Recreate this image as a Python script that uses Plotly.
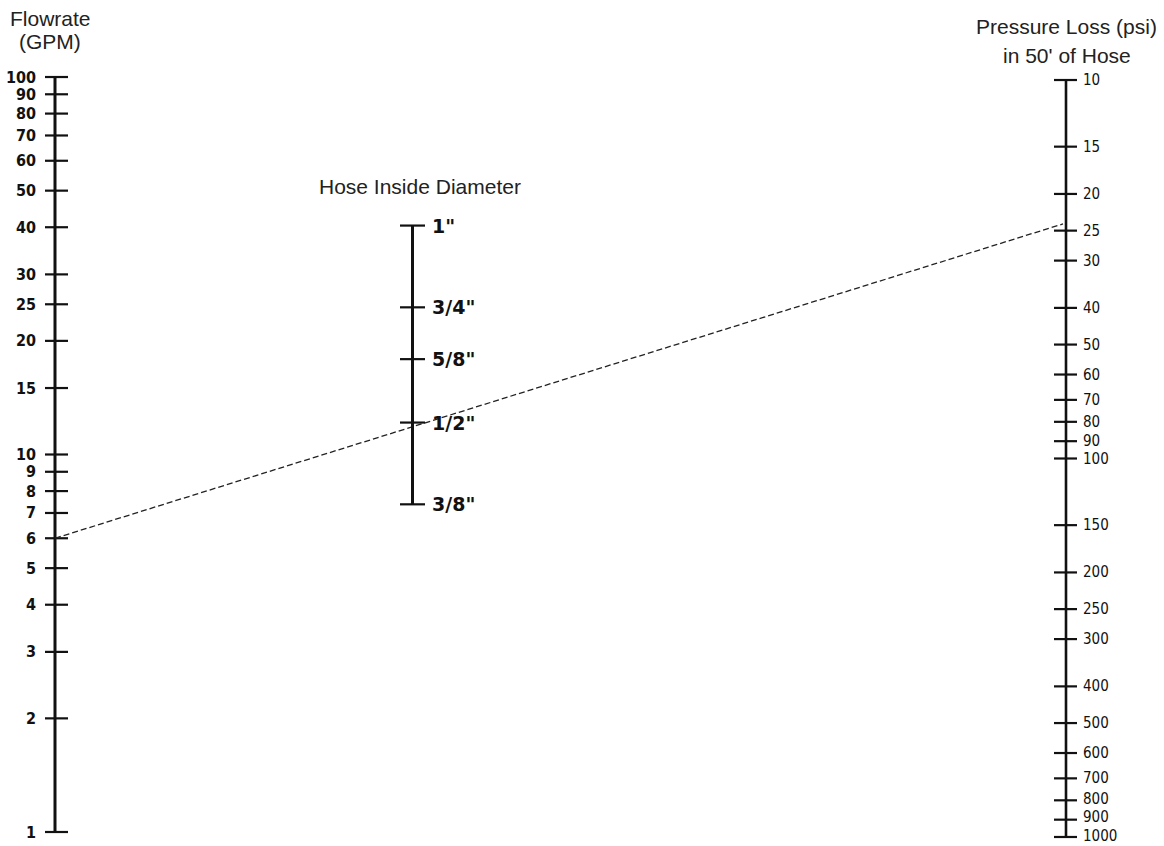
import math
import plotly.graph_objects as go

# ---------------- data ----------------
flow_ticks = [1, 2, 3, 4, 5, 6, 7, 8, 9, 10, 15, 20, 25, 30, 40, 50, 60, 70, 80, 90, 100]
psi_ticks = [10, 15, 20, 25, 30, 40, 50, 60, 70, 80, 90, 100, 150, 200, 250, 300,
             400, 500, 600, 700, 800, 900, 1000]
dia_values = [1.0, 0.75, 0.625, 0.5, 0.375]
dia_labels = ['1"', '3/4"', '5/8"', '1/2"', '3/8"']

example_flow = 6      # GPM
example_dia = 0.5     # inch
example_psi = 24      # psi in 50' of hose

# ---------------- layout constants ----------------
W, H = 1164, 846
X_LEFT, X_MID, X_RIGHT = 55, 412.5, 1066
Y1_RANGE = [-0.0371, 2.2040]   # flow (log10), 1 at bottom
Y2_RANGE = [3.0238, 0.7886]    # psi (log10), reversed
Y3_RANGE = [-0.9481, 0.3447]   # diameter (log10)
INK = "#111111"
PSI_LABEL_NUDGE = {800: 1, 900: 3, 1000: 1}   # crowded labels at the bottom of the psi scale

fig = go.Figure()


def segs(x0, x1, vals):
    xs, ys = [], []
    for v in vals:
        xs += [x0, x1, None]
        ys += [v, v, None]
    return xs, ys


# left scale
fig.add_trace(go.Scatter(x=[X_LEFT, X_LEFT], y=[min(flow_ticks), max(flow_ticks)], mode="lines",
                         line=dict(color=INK, width=3), yaxis="y", hoverinfo="skip"))
xs, ys = segs(X_LEFT - 10, X_LEFT + 13, flow_ticks)
fig.add_trace(go.Scatter(x=xs, y=ys, mode="lines", line=dict(color=INK, width=2.2),
                         yaxis="y", hoverinfo="skip"))

# middle scale
fig.add_trace(go.Scatter(x=[X_MID, X_MID], y=[max(dia_values), min(dia_values)], mode="lines",
                         line=dict(color=INK, width=3), yaxis="y3", hoverinfo="skip"))
xs, ys = segs(X_MID - 12.5, X_MID + 12.5, dia_values)
fig.add_trace(go.Scatter(x=xs, y=ys, mode="lines", line=dict(color=INK, width=2.2),
                         yaxis="y3", hoverinfo="skip"))

# right scale
fig.add_trace(go.Scatter(x=[X_RIGHT, X_RIGHT], y=[min(psi_ticks), max(psi_ticks)], mode="lines",
                         line=dict(color=INK, width=2.6), yaxis="y2", hoverinfo="skip"))
xs, ys = segs(X_RIGHT - 12, X_RIGHT + 11, psi_ticks)
fig.add_trace(go.Scatter(x=xs, y=ys, mode="lines", line=dict(color=INK, width=2.2),
                         yaxis="y2", hoverinfo="skip"))

# example isopleth: 6 GPM -> 1/2" -> 24 psi (psi converted into the flow axis scale)
frac = (math.log10(example_psi) - Y2_RANGE[0]) / (Y2_RANGE[1] - Y2_RANGE[0])
psi_on_flow = 10 ** (Y1_RANGE[0] + frac * (Y1_RANGE[1] - Y1_RANGE[0]))
fig.add_trace(go.Scatter(x=[X_LEFT, X_RIGHT - 3], y=[example_flow, psi_on_flow], mode="lines",
                         line=dict(color="#222222", width=1.3, dash="6px,3px"),
                         yaxis="y", hoverinfo="skip"))

ann = []
for v in flow_ticks:
    ann.append(dict(x=X_LEFT - 17, y=math.log10(v), xref="x", yref="y", text=str(v),
                    xanchor="right", yanchor="middle", showarrow=False,
                    font=dict(family="DejaVu Sans Condensed, DejaVu Sans", size=16,
                              color=INK, weight="bold")))
for v in psi_ticks:
    ann.append(dict(x=X_RIGHT + 16, y=math.log10(v), xref="x", yref="y2", text=str(v),
                    xanchor="left", yanchor="middle", showarrow=False,
                    yshift=PSI_LABEL_NUDGE.get(v, 0), borderpad=0,
                    font=dict(family="DejaVu Sans Condensed, DejaVu Sans", size=15, color=INK)))
for v, t in zip(dia_values, dia_labels):
    ann.append(dict(x=X_MID + 17, y=math.log10(v), xref="x", yref="y3", text=t,
                    xanchor="left", yanchor="middle", showarrow=False,
                    font=dict(family="DejaVu Sans", size=19, color=INK, weight="bold")))

title_font = dict(family="Liberation Sans, Arial, sans-serif", size=21, color="#222222")
for txt, x, py in [("Flowrate", 50, 18), ("(GPM)", 50, 41),
                   ("Hose Inside Diameter", 420, 186),
                   ("Pressure Loss (psi)", 1066, 27), ("in 50' of Hose", 1067, 56)]:
    ann.append(dict(x=x, y=1 - py / H, xref="x", yref="paper", text=txt,
                    xanchor="center", yanchor="middle", showarrow=False, font=title_font))

fig.update_layout(
    width=W, height=H, margin=dict(l=0, r=0, t=0, b=0),
    paper_bgcolor="white", plot_bgcolor="white", showlegend=False,
    xaxis=dict(range=[0, W], visible=False, fixedrange=True),
    yaxis=dict(type="log", range=Y1_RANGE, visible=False, fixedrange=True),
    yaxis2=dict(type="log", range=Y2_RANGE, visible=False, overlaying="y", fixedrange=True),
    yaxis3=dict(type="log", range=Y3_RANGE, visible=False, overlaying="y", fixedrange=True),
    annotations=ann,
)

fig.write_html("out.html", post_script="document.body.style.margin='0';",
               config={"displayModeBar": False})
